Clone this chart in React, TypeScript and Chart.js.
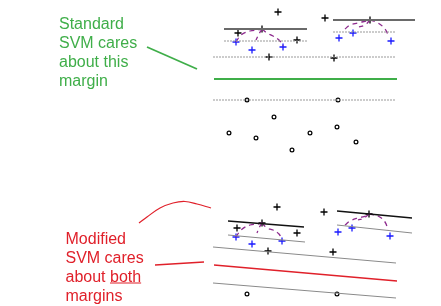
import React, { useEffect, useRef } from "react";
import { Chart, registerables } from "chart.js";
Chart.register(...registerables);

const W = 441;
const H = 306;

// ---- Top panel (standard SVM) ----
const topBlackPlusX = [278, 325, 262, 370, 238, 297, 269, 334];
const topBlackPlusY = [12, 18, 29, 20, 33, 40, 57, 58];
const topBluePlusX = [236, 252, 283, 339, 353, 391];
const topBluePlusY = [42, 50, 47, 38, 33, 41];
const topCircleX = [247, 338, 274, 229, 256, 310, 337, 356, 292];
const topCircleY = [100, 100, 117, 133, 138, 133, 127, 142, 150];

// ---- Bottom panel (modified SVM) ----
const botBlackPlusX = [277, 324, 262, 369, 237, 297, 268, 333];
const botBlackPlusY = [207, 212, 223, 214, 228, 233, 251, 252];
const botBluePlusX = [236, 252, 282, 338, 352, 390];
const botBluePlusY = [237, 244, 241, 232, 228, 236];
const botCircleX = [247, 337];
const botCircleY = [294, 294];

// line segments [x1, y1, x2, y2]
const topSolidSegs = [[224, 29, 307, 29], [333, 20, 415, 20]];
const topDottedSegs = [[224, 41, 307, 41], [333, 32, 396, 32], [213, 57, 396, 57], [213, 100, 396, 100]];
const greenSegs = [[214, 79, 397, 79], [147, 47, 197, 69]];
const botSolidSegs = [[228, 221, 304, 227], [337, 211, 412, 218]];
const botGraySegs = [[228, 235, 305, 242], [337, 225, 412, 233], [213, 247, 396, 263], [213, 283, 396, 298]];
const redSegs = [[214, 265, 397, 281], [155, 265, 204, 262]];

// red curved arrow
const redCurveX = [139, 147, 160, 173, 185, 197, 211];
const redCurveY = [223, 217, 208, 203, 201.5, 204, 208];

// purple dashed arcs
const purpleCurves = [
  [[236, 42], [241, 35], [250, 31], [258, 30], [262, 29]],
  [[262, 29], [259, 34], [256, 40]],
  [[262, 29], [267, 33], [273, 36], [279, 40], [283, 46]],
  [[345, 29], [350, 25], [358, 23], [366, 21], [370, 20]],
  [[370, 20], [365, 25], [359, 27]],
  [[370, 20], [378, 23], [385, 29], [389, 37]],
  [[236, 237], [241, 230], [250, 225], [258, 224], [262, 223]],
  [[262, 223], [259, 228], [257, 233]],
  [[262, 223], [267, 228], [273, 230], [279, 234], [282, 240]],
  [[345, 225], [350, 221], [358, 218], [366, 216], [369, 214]],
  [[369, 214], [364, 218], [358, 220]],
  [[369, 214], [378, 216], [385, 222], [388, 230]],
];

// text
const greenText = ["Standard", "SVM cares", "about this", "margin"];
const redText = ["Modified", "SVM cares", "about both", "margins"];

const GREEN = "#3fae49";
const RED = "#e0202a";
const PURPLE = "#8e2a8e";

const pts = (xs: number[], ys: number[]) => xs.map((x, i) => ({ x, y: ys[i] }));

function segDatasets(segs: number[][], color: string, width: number, dash: number[] = []) {
  return segs.map((s) => ({
    type: "scatter" as const,
    data: [{ x: s[0], y: s[1] }, { x: s[2], y: s[3] }],
    showLine: true,
    borderColor: color,
    borderWidth: width,
    borderDash: dash,
    pointRadius: 0,
    tension: 0,
  }));
}

const textPlugin = {
  id: "textPlugin",
  afterDatasetsDraw(chart: any) {
    const ctx = chart.ctx;
    const xs = chart.scales.x;
    const ys = chart.scales.y;
    ctx.save();
    ctx.font = '16px "Liberation Sans", Arial, sans-serif';
    ctx.textBaseline = "alphabetic";
    ctx.textAlign = "left";
    ctx.fillStyle = GREEN;
    greenText.forEach((t, i) => {
      ctx.fillText(t, xs.getPixelForValue(59), ys.getPixelForValue(28.5 + i * 19));
    });
    ctx.fillStyle = RED;
    redText.forEach((t, i) => {
      ctx.fillText(t, xs.getPixelForValue(65.5), ys.getPixelForValue(243.5 + i * 19));
    });
    // underline "both"
    const pre = ctx.measureText("about ").width;
    const bw = ctx.measureText("both").width;
    const x0 = xs.getPixelForValue(65.5) + pre;
    const uy = ys.getPixelForValue(283);
    ctx.strokeStyle = RED;
    ctx.lineWidth = 1.2;
    ctx.beginPath();
    ctx.moveTo(x0, uy);
    ctx.lineTo(x0 + bw, uy);
    ctx.stroke();
    ctx.restore();
  },
};

export default function App() {
  const ref = useRef<HTMLCanvasElement>(null);
  useEffect(() => {
    document.body.style.margin = "0";
    const plusStyle = (color: string) => ({
      pointStyle: "cross" as const,
      pointRadius: 3.5,
      pointBorderColor: color,
      pointBorderWidth: 1.3,
      showLine: false,
    });
    const circleStyle = {
      pointStyle: "circle" as const,
      pointRadius: 1.9,
      pointBorderColor: "#000",
      pointBackgroundColor: "#fff",
      pointBorderWidth: 1.2,
      showLine: false,
    };
    const datasets: any[] = [
      ...segDatasets(topSolidSegs, "#6a6a6a", 2),
      ...segDatasets(topDottedSegs, "#999999", 1, [2, 1]),
      ...segDatasets(greenSegs, GREEN, 1.8),
      ...segDatasets(botSolidSegs, "#111111", 1.4),
      ...segDatasets(botGraySegs, "#8a8a8a", 1),
      ...segDatasets(redSegs, RED, 1.5),
      {
        data: pts(redCurveX, redCurveY),
        showLine: true,
        borderColor: RED,
        borderWidth: 1.2,
        pointRadius: 0,
        tension: 0.4,
      },
      ...purpleCurves.map((c) => ({
        data: c.map((p) => ({ x: p[0], y: p[1] })),
        showLine: true,
        borderColor: PURPLE,
        borderWidth: 1.3,
        borderDash: [5, 4],
        pointRadius: 0,
        tension: 0.4,
      })),
      { data: pts(topBlackPlusX, topBlackPlusY), ...plusStyle("#000") },
      { data: pts(topBluePlusX, topBluePlusY), ...plusStyle("#1a1aff") },
      { data: pts(topCircleX, topCircleY), ...circleStyle },
      { data: pts(botBlackPlusX, botBlackPlusY), ...plusStyle("#000") },
      { data: pts(botBluePlusX, botBluePlusY), ...plusStyle("#1a1aff") },
      { data: pts(botCircleX, botCircleY), ...circleStyle },
    ];
    const chart = new Chart(ref.current!, {
      type: "scatter",
      data: { datasets },
      options: {
        animation: false,
        responsive: false,
        maintainAspectRatio: false,
        layout: { padding: 0, autoPadding: false } as any,
        plugins: { legend: { display: false }, tooltip: { enabled: false } },
        clip: false as any,
        scales: {
          x: { type: "linear", min: 0, max: W, display: false },
          y: { type: "linear", min: 0, max: H, reverse: true, display: false },
        },
      },
      plugins: [textPlugin],
    });
    return () => chart.destroy();
  }, []);
  return <canvas ref={ref} width={W} height={H} style={{ display: "block", width: W, height: H }} />;
}
